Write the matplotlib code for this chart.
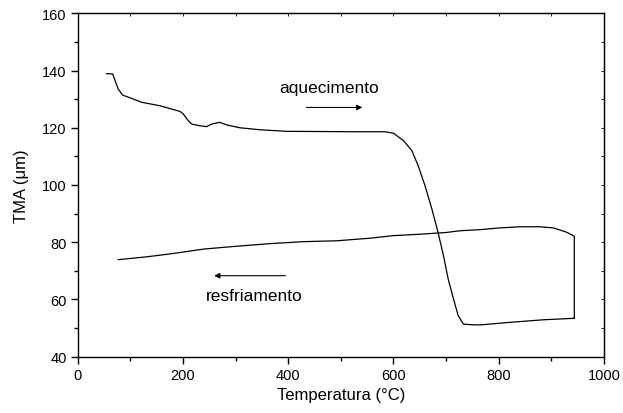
import numpy as np
import matplotlib
matplotlib.use('Agg')
import matplotlib.pyplot as plt
from matplotlib.ticker import MultipleLocator, NullFormatter

plt.rcParams['font.family'] = ['Liberation Sans', 'DejaVu Sans']

# heating curve (aquecimento)
heat_t = [55, 66.5, 77, 85.5, 102, 121.6, 156, 194.5, 200.6, 210, 216.6, 232,
          245, 254.6, 270, 283, 308, 346, 397, 536, 584, 600, 619, 635, 647,
          660, 673, 685, 695, 704, 714, 723, 733, 745, 764, 821, 885, 941.6,
          943.6]
heat_v = [138.9, 138.8, 133.5, 131.4, 130.3, 128.9, 127.7, 125.7, 124.8, 122.5,
          121.3, 120.7, 120.4, 121.3, 121.9, 121.0, 120.0, 119.3, 118.75, 118.6,
          118.6, 118.1, 115.5, 112.0, 106.7, 99.7, 91.6, 83.2, 75.3, 67.1, 60.2,
          54.3, 51.4, 51.2, 51.1, 52.0, 52.9, 53.4, 53.4]

# cooling curve (resfriamento)
cool_t = [943.6, 943.6, 929, 904, 878, 840, 802, 765, 726, 700, 650, 600, 555,
          492, 429, 365, 302, 239, 175, 131, 77]
cool_v = [53.4, 82.1, 83.5, 85.0, 85.4, 85.4, 85.0, 84.4, 84.0, 83.4, 82.8,
          82.3, 81.4, 80.5, 80.2, 79.5, 78.6, 77.6, 75.9, 74.9, 73.9]

fig = plt.figure(figsize=(6.23, 4.14), dpi=100)
ax = fig.add_axes([0.1247, 0.136, 0.8448, 0.8295])

ax.plot(heat_t, heat_v, color='black', lw=0.9)
ax.plot(cool_t, cool_v, color='black', lw=0.9)

ax.set_xlim(0, 1000)
ax.set_ylim(40, 160)
ax.xaxis.set_major_locator(MultipleLocator(200))
ax.xaxis.set_minor_locator(MultipleLocator(100))
ax.yaxis.set_major_locator(MultipleLocator(20))
ax.yaxis.set_minor_locator(MultipleLocator(10))
ax.tick_params(which='major', direction='out', length=5, width=1,
               labelsize=10.5, pad=3)
ax.tick_params(which='minor', direction='out', length=3, width=1)
for s in ax.spines.values():
    s.set_linewidth(1)

# small inner ticks on the top and right frame
top = ax.secondary_xaxis('top')
top.xaxis.set_major_locator(MultipleLocator(100))
top.xaxis.set_major_formatter(NullFormatter())
top.tick_params(direction='in', length=2, width=0.6)
right = ax.secondary_yaxis('right')
right.yaxis.set_major_locator(MultipleLocator(10))
right.yaxis.set_major_formatter(NullFormatter())
right.tick_params(direction='in', length=2, width=0.6)

ax.set_xlabel('Temperatura (°C)', fontsize=12, labelpad=4)
ax.set_ylabel('TMA (μm)', fontsize=12, labelpad=9)

ax.text(478, 134.1, 'aquecimento', ha='center', va='center', fontsize=12.5)
ax.annotate('', xy=(546, 127.1), xytext=(429, 127.1),
            arrowprops=dict(arrowstyle='-|>', color='black', lw=0.8,
                            mutation_scale=8))
ax.text(336, 61.5, 'resfriamento', ha='center', va='center', fontsize=12.5)
ax.annotate('', xy=(254, 68.3), xytext=(400, 68.3),
            arrowprops=dict(arrowstyle='-|>', color='black', lw=0.8,
                            mutation_scale=8))

fig.savefig('out.png', dpi=100)
